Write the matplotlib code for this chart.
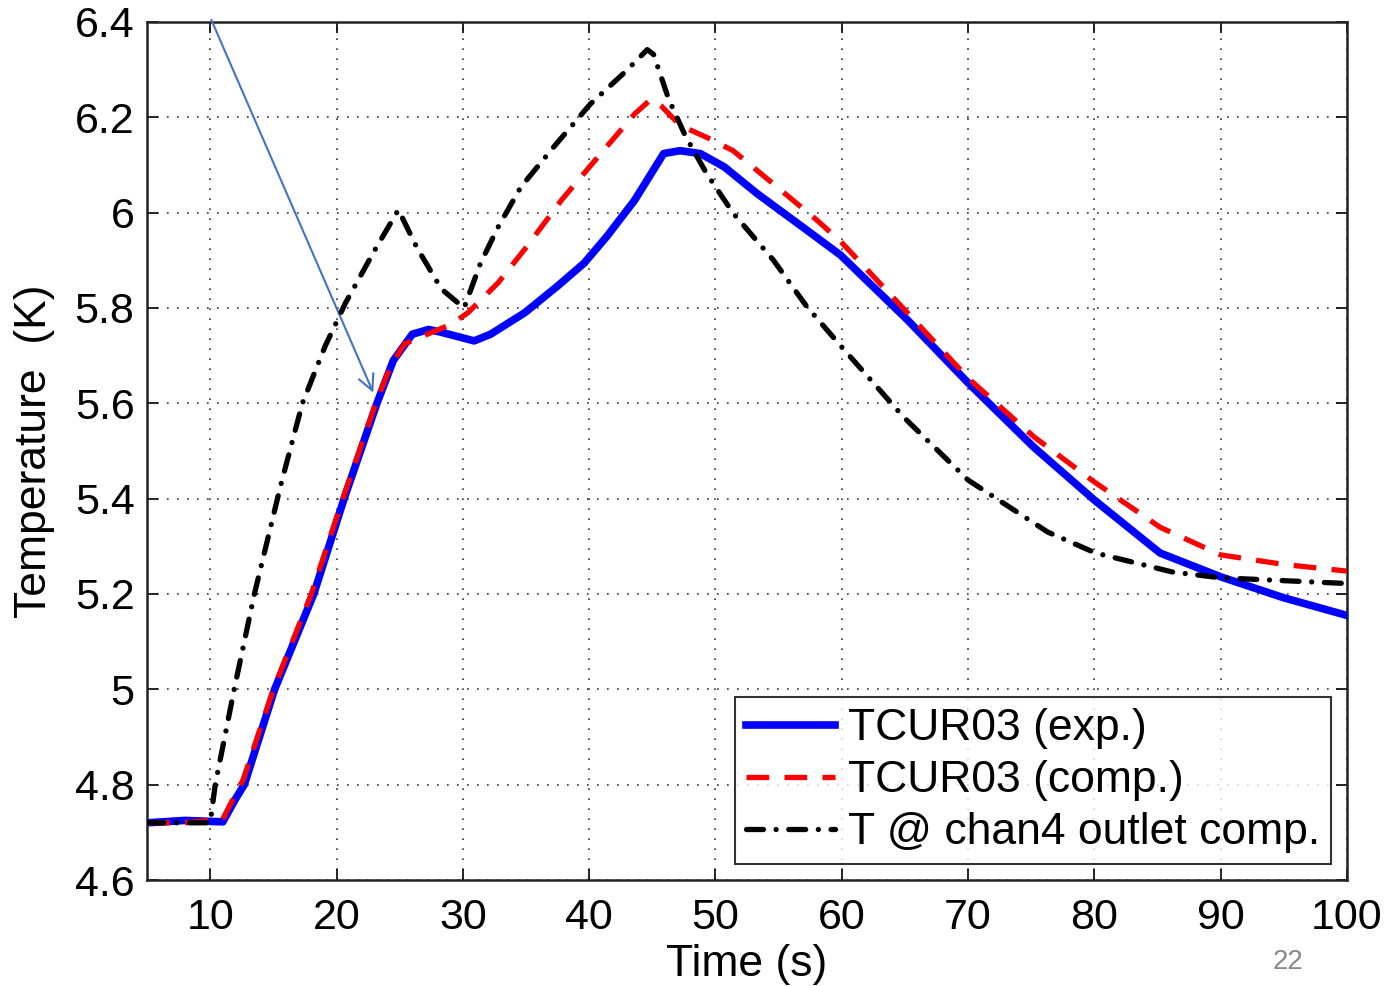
import numpy as np
import matplotlib
matplotlib.use("Agg")
import matplotlib.pyplot as plt

plt.rcParams['font.family'] = ['Liberation Sans', 'DejaVu Sans']

#%% data
t_exp = [5, 8, 11, 12, 12.7, 15.1, 18.2, 20.6, 23.2, 24.5, 26, 27.3, 28.3, 30.9, 32.2, 34.9, 37.5, 39.6, 41.4,
         43.6, 45.9, 47.2, 48.8, 50.7, 53.3, 57.2, 59.9, 65.2, 70, 75.2, 80, 85.2, 90, 95, 100]
T_exp = [4.72, 4.725, 4.722, 4.77, 4.8, 5.0, 5.2, 5.4, 5.6, 5.69, 5.745, 5.755, 5.749, 5.731, 5.745, 5.79,
         5.846, 5.894, 5.95, 6.026, 6.124, 6.13, 6.124, 6.096, 6.04, 5.964, 5.911, 5.775, 5.643, 5.508, 5.397,
         5.286, 5.236, 5.192, 5.155]

t_comp = [5, 8, 11, 12, 12.6, 15, 18, 20.5, 23.1, 24.3, 25.4, 28, 29.1, 30.4, 32.8, 35.1, 37.8, 40.7, 43.6,
          44.9, 45.7, 47.2, 49.3, 51.4, 54.6, 58, 59.9, 65.2, 70, 75.2, 80, 85.2, 90, 95, 100]
T_comp = [4.72, 4.72, 4.728, 4.78, 4.81, 5.0, 5.2, 5.4, 5.6, 5.68, 5.725, 5.754, 5.766, 5.79, 5.853, 5.93,
          6.026, 6.117, 6.207, 6.238, 6.224, 6.183, 6.158, 6.13, 6.06, 5.985, 5.94, 5.79, 5.653, 5.53, 5.435,
          5.34, 5.282, 5.262, 5.248]

t_ch4 = [5, 8, 10, 10.4, 11.9, 13.5, 15.6, 17.3, 19.1, 20.7, 23, 24.9, 26.4, 28.3, 30.1, 31.4, 32.8, 34.6,
         37.2, 40.1, 42.8, 44.6, 45.1, 46.3, 47.6, 49.3, 51.4, 54.6, 57.2, 60, 64.9, 70, 76.3, 80.1, 86.2, 90,
         100]
T_ch4 = [4.72, 4.72, 4.72, 4.8, 5.0, 5.2, 5.43, 5.6, 5.72, 5.81, 5.92, 6.006, 5.925, 5.84, 5.80, 5.894, 5.97,
         6.054, 6.138, 6.228, 6.294, 6.342, 6.332, 6.238, 6.162, 6.082, 5.999, 5.90, 5.804, 5.718, 5.571, 5.439,
         5.33, 5.286, 5.246, 5.234, 5.222]

xticks = [10, 20, 30, 40, 50, 60, 70, 80, 90, 100]
yticks = [4.6, 4.8, 5.0, 5.2, 5.4, 5.6, 5.8, 6.0, 6.2, 6.4]
yticklabels = ['4.6', '4.8', '5', '5.2', '5.4', '5.6', '5.8', '6', '6.2', '6.4']

fs = 31

#%% plot
fig = plt.figure(figsize=(13.95, 9.86), dpi=100)
ax = fig.add_axes([0.1054, 0.1075, 0.8602, 0.8702])

ax.plot(t_exp, T_exp, color='#0000ff', lw=5.5, label='TCUR03 (exp.)', zorder=3)
ax.plot(t_comp, T_comp, color='#ff0000', lw=3.8, ls=(0, (4.3, 2.9)), label='TCUR03 (comp.)', zorder=4)
ax.plot(t_ch4, T_ch4, color='black', lw=3.8, ls=(0, (3.2, 2.4, 0.01, 2.4)), dash_capstyle='round',
        label='T @ chan4 outlet comp.', zorder=5)

ax.set_xlim(5, 100)
ax.set_ylim(4.6, 6.4)
ax.set_xticks(xticks)
ax.set_yticks(yticks)
ax.set_yticklabels(yticklabels)
ax.tick_params(direction='in', length=8, width=1.2, labelsize=fs, top=True, right=True)
ax.tick_params(axis='y', pad=9)
ax.tick_params(axis='x', pad=13)
ax.grid(True, ls=(0, (1, 5)), color='#333333', lw=1.2)
for s in ax.spines.values():
    s.set_linewidth(1.8)
    s.set_color('#222222')

ax.set_xlabel('Time (s)', fontsize=fs + 1)
ax.set_ylabel('Temperature  (K)', fontsize=fs + 1)
ax.xaxis.set_label_coords(0.5, -0.075)
ax.yaxis.set_label_coords(-0.077, 0.5)

leg = ax.legend(loc='lower right', fontsize=32, frameon=True, fancybox=False, handlelength=2.0,
                handletextpad=0.3, borderpad=0.25, labelspacing=0.25, borderaxespad=0.35, edgecolor='black')
leg.get_frame().set_linewidth(1.5)

# arrow annotation
ax.annotate('', xy=(23, 5.617), xytext=(10, 6.41),
            arrowprops=dict(arrowstyle='->', color='#4472c4', lw=1.5, mutation_scale=28),
            annotation_clip=False)

fig.text(0.9233, 0.017, '22', color='#888888', fontsize=20, ha='center')

plt.savefig('out.png', dpi=100)
